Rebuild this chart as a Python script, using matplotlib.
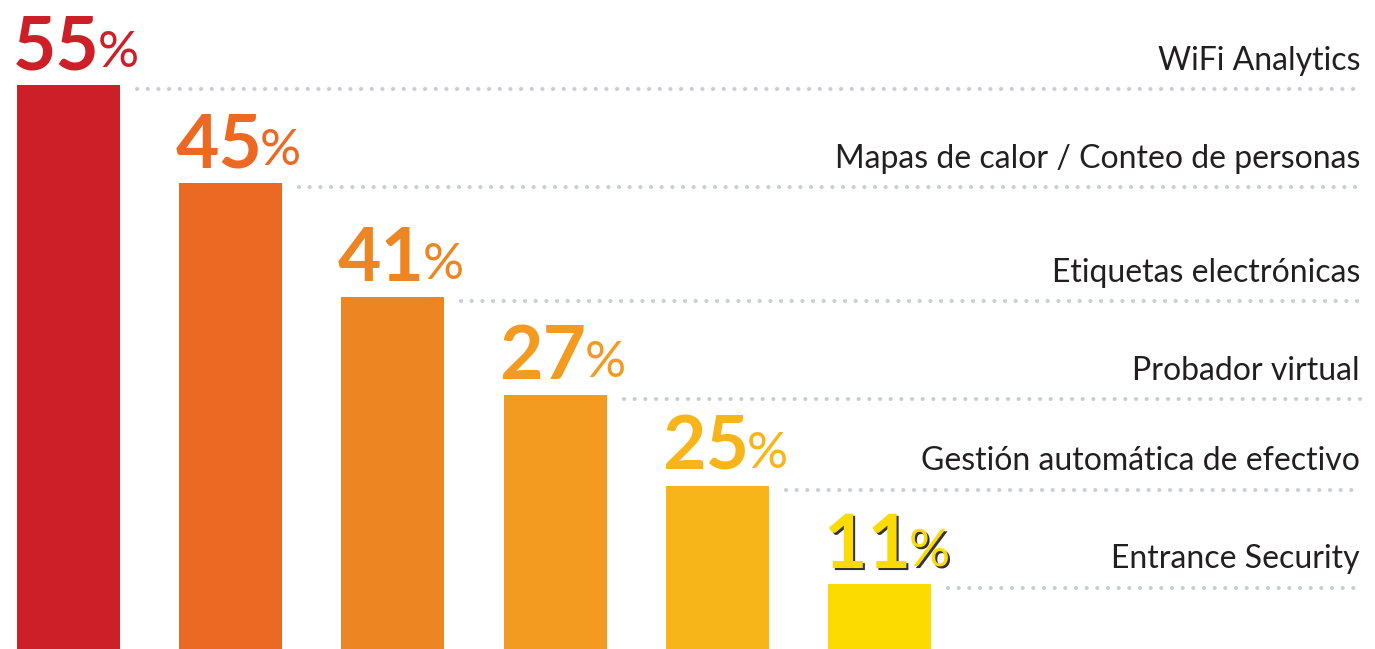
import matplotlib
matplotlib.use("Agg")
import matplotlib.pyplot as plt
import matplotlib.patheffects as pe

# datos
categories = ["WiFi Analytics", "Mapas de calor / Conteo de personas",
              "Etiquetas electrónicas", "Probador virtual",
              "Gestión automática de efectivo", "Entrance Security"]
values = [55, 45, 41, 27, 25, 11]
# alturas visibles de las barras (leidas de la imagen, no proporcionales)
bar_heights = [56.4, 46.6, 35.2, 25.4, 16.3, 6.5]
colors = ["#CC1F28", "#EB6923", "#EE8523", "#F39A21", "#F8B51A", "#FCDB00"]

W, H = 1375, 649
fig = plt.figure(figsize=(W / 100, H / 100), dpi=100)
ax = fig.add_axes([0, 0, 1, 1])
ax.axis("off")

step = 162.2   # px entre barras
x0 = 68.5      # centro primera barra (px)
bw = 103 / step
ax.set_xlim(-x0 / step, (W - x0) / step)
ax.set_ylim(0, H / 10)

idx = list(range(len(values)))
ax.bar(idx, bar_heights, width=bw, color=colors, align="center", zorder=2)

x_end = (1360 - x0) / step
font_lbl = "Lato"
for i, (cat, h) in enumerate(zip(categories, bar_heights)):
    x_start = i + bw / 2 + 17 / step
    ax.plot([x_start, x_end], [h - 0.35, h - 0.35], color="#C9CDD8", lw=3.0,
            linestyle=(0, (0.01, 2.55)), dash_capstyle="round", zorder=1)
    ax.text(x_end, h - 0.35 + 1.9, cat, ha="right", va="baseline",
            fontsize=23, family=font_lbl, color="#231F20")

fig.canvas.draw()
rend = fig.canvas.get_renderer()
inv = ax.transData.inverted()
for i, (v, h, c) in enumerate(zip(values, bar_heights, colors)):
    fx = []
    if i == len(values) - 1:
        fx = [pe.SimplePatchShadow(offset=(1.5, -1.5), shadow_rgbFace="#333333", alpha=1.0),
              pe.Normal()]
    xl = i - bw / 2 - 4 / step
    yb = h + 1.6
    t = ax.text(xl, yb, str(v), ha="left", va="baseline", fontsize=54,
                weight="bold", family=font_lbl, color=c, path_effects=fx)
    bb = t.get_window_extent(rend)
    xr = inv.transform((bb.x1 - 2, 0))[0]
    ax.text(xr, yb + 0.2, "%", ha="left", va="baseline", fontsize=37,
            family=font_lbl, color=c, path_effects=fx)

fig.savefig("out.png", dpi=100, facecolor="white")
